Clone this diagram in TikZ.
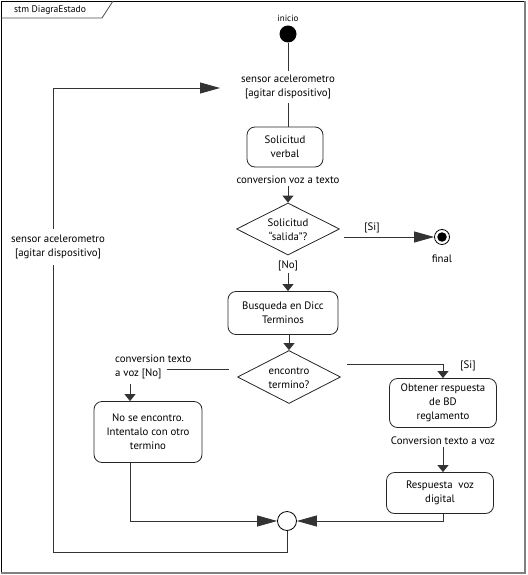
\documentclass[tikz,border=0pt]{standalone}
\usepackage{fontspec}
\setmainfont{PT Sans}
\usetikzlibrary{shapes.geometric,arrows.meta}
\begin{document}
\begin{tikzpicture}[x=1pt,y=-1pt,
  line/.style={draw=black!80, line width=0.8pt},
  big/.style={-{Triangle[length=20pt,width=11pt]}},
  small/.style={-{Triangle[length=7pt,width=11pt]}},
  act/.style={draw=black!85, line width=0.8pt, rounded corners=8pt, align=center, inner sep=0pt},
  dec/.style={diamond, draw=black!85, line width=0.8pt, inner sep=0pt, aspect=2},
  lbl/.style={align=center, inner sep=4pt},
  font=\fontsize{10.8}{14}\selectfont]
\useasboundingbox (0,0) rectangle (527,575);
% frame
\draw[black, line width=0.8pt] (1,573) -- (1,1) -- (525,1);
\draw[black!50, line width=2pt] (525,1) -- (525,573) -- (1,573);
\draw[black!70, line width=0.8pt] (1,18) -- (102,18) -- (113,1);
\node[font=\fontsize{9.6}{11}\selectfont, inner sep=0pt] (title) at (50,10) {stm DiagraEstado};
% nodes
\node[circle, fill=black, minimum size=17pt, inner sep=0pt] (init) at (288,34) {};
\node[font=\fontsize{9}{10}\selectfont, inner sep=0pt] (inicio) at (288,18) {inicio};
\node[lbl] (t1) at (288,87) {sensor acelerometro\\{[agitar dispositivo]}};
\node[act, minimum width=76pt, minimum height=40pt] (verbal) at (285,147) {Solicitud\\verbal};
\node[lbl, inner sep=2pt] (c1) at (288,180) {conversion voz a texto};
\node[dec, minimum width=103pt, minimum height=52pt] (d1) at (288,229) {};
\node[inner sep=0pt, align=center] (d1t) at (288,230) {Solicitud\\“salida”?};
\node[lbl, inner sep=2pt] (no1) at (288,266) {[No]};
\node[circle, draw=black, line width=0.8pt, fill=white, minimum size=15pt, inner sep=0pt] (fin) at (442,237) {};
\node[circle, fill=black, minimum size=9.5pt, inner sep=0pt] (finin) at (fin) {};
\node[inner sep=0pt] (finl) at (442,259) {final};
\node[inner sep=0pt] (si1) at (372,228) {[Si]};
\node[act, minimum width=110pt, minimum height=43pt] (busq) at (283,313) {Busqueda en Dicc\\Terminos};
\node[dec, minimum width=103pt, minimum height=53pt] (d2) at (289,377) {};
\node[inner sep=0pt, align=center] (d2t) at (289,378) {encontro\\termino?};
\node[align=left, anchor=west, inner sep=2pt] (nl) at (113,367) {conversion texto\\a voz [No]};
\node[act, minimum width=108pt, minimum height=61pt] (noenc) at (148,432) {No se encontro.\\Intentalo con otro\\termino};
\node[inner sep=0pt] (si2) at (468,366) {[Si]};
\node[act, minimum width=107pt, minimum height=49pt] (obt) at (443,403) {Obtener respuesta\\de BD\\reglamento};
\node[lbl, inner sep=2pt] (c3) at (443,441) {Conversion texto a voz};
\node[act, minimum width=107pt, minimum height=41pt] (resp) at (440,493) {Respuesta\ \ voz\\digital};
\node[circle, draw=black, line width=0.8pt, minimum size=19pt, inner sep=0pt] (merge) at (287,521) {};
\node[lbl, inner sep=6pt] (lft) at (58,247) {sensor acelerometro\\{[agitar dispositivo]}};
% coordinates
\coordinate (d1r) at (344,237);
\coordinate (d2l) at (229,369);
\coordinate (c2e) at (167,369);
\coordinate (nlb) at (130,384);
\coordinate (d2r) at (347,364);
\coordinate (lb) at (53,552);
\coordinate (ta) at (220,88);
% connectors
\draw[line] (init) -- (t1);
\draw[line] (t1.south) -- (t1.south |- verbal.north);
\draw[line, small] (c1.south) -- (d1.north);
\draw[line, big] (d1r) -- (fin.west);
\draw[line, small] (no1.south) -- (no1.south |- busq.north);
\draw[line, small] (d2 |- busq.south) -- (d2.north);
\draw[line] (d2l) -- (c2e);
\draw[line, small] (nlb) -- (nlb |- noenc.north);
\draw[line, small] (d2r) -| (obt.north);
\draw[line, small] (c3.south) -- (c3.south |- resp.north);
\draw[line, big] (noenc.south -| nlb) |- (merge.west);
\draw[line, big] (resp.south -| c3) |- (merge.east);
\draw[line] (merge.south) |- (lb) -- (lb |- lft.south);
\draw[line, big] (lb |- lft.north) |- (ta);
\end{tikzpicture}
\end{document}
